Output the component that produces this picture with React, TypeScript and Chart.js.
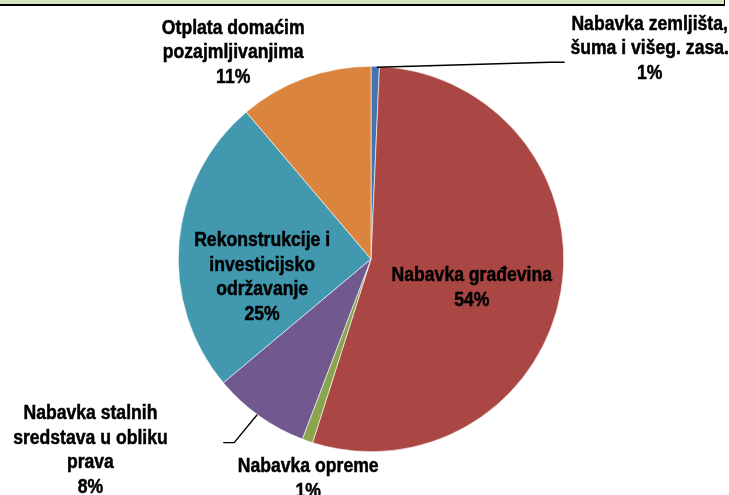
import React, { useEffect, useRef } from "react";
import { Chart, registerables } from "chart.js";

Chart.register(...registerables);

const categories = [
  "Nabavka zemljišta, šuma i višeg. zasa.",
  "Nabavka građevina",
  "Nabavka opreme",
  "Nabavka stalnih sredstava u obliku prava",
  "Rekonstrukcije i investicijsko održavanje",
  "Otplata domaćim pozajmljivanjima",
];
const values = [0.7, 54.2, 0.9, 8.1, 24.9, 11.2];
const labelLines = [
  ["Nabavka zemljišta,", "šuma i višeg. zasa."],
  ["Nabavka građevina"],
  ["Nabavka opreme"],
  ["Nabavka stalnih", "sredstava u obliku", "prava"],
  ["Rekonstrukcije i", "investicijsko", "održavanje"],
  ["Otplata domaćim", "pozajmljivanjima"],
];
const colors = ["#4575B0", "#AA4643", "#89A54E", "#71588F", "#4198AF", "#DB843D"];

// label placement, in units of the pie radius relative to its centre (first line's centre)
const labelPos = [
  { x: 1.446, y: -1.219 },
  { x: 0.523, y: 0.088 },
  { x: -0.326, y: 1.077 },
  { x: -1.456, y: 0.803 },
  { x: -0.565, y: -0.096 },
  { x: -0.715, y: -1.197 },
];
// leader lines (relative to radius), null when none
const leaders: (number[][] | null)[] = [
  [[0.03, -0.995], [0.927, -1.021], [1.005, -1.021]],
  null,
  null,
  [[-0.591, 0.808], [-0.710, 0.953], [-0.767, 0.953]],
  null,
  null,
];

const labelPlugin = {
  id: "sliceLabels",
  afterDraw(chart: any) {
    const ctx = chart.ctx;
    const meta = chart.getDatasetMeta(0);
    const arc0 = meta.data[0];
    const cx = arc0.x;
    const cy = arc0.y;
    const r = arc0.outerRadius;
    const total = values.reduce((a, b) => a + b, 0);
    ctx.save();
    ctx.strokeStyle = "#000";
    ctx.lineWidth = 1.4;
    leaders.forEach((pts) => {
      if (!pts) return;
      ctx.beginPath();
      pts.forEach((p, i) => {
        const px = cx + p[0] * r;
        const py = cy + p[1] * r;
        if (i === 0) ctx.moveTo(px, py);
        else ctx.lineTo(px, py);
      });
      ctx.stroke();
    });
    ctx.fillStyle = "#000";
    ctx.strokeStyle = "#000";
    ctx.lineWidth = 0.5;
    ctx.font = 'bold 20px "Liberation Sans", Arial, sans-serif';
    ctx.textAlign = "center";
    ctx.textBaseline = "middle";
    const lh = 24.5;
    const sx = 0.88;
    values.forEach((v, i) => {
      const lines = [...labelLines[i], Math.round((v / total) * 100) + "%"];
      const x = cx + labelPos[i].x * r;
      const y0 = cy + labelPos[i].y * r;
      lines.forEach((t, j) => {
        ctx.save();
        ctx.translate(x, y0 + j * lh);
        ctx.scale(sx, 1);
        ctx.fillText(t, 0, 0);
        ctx.strokeText(t, 0, 0);
        ctx.restore();
      });
    });
    ctx.restore();
  },
};

export default function App() {
  const ref = useRef<HTMLCanvasElement>(null);
  useEffect(() => {
    if (!ref.current) return;
    const chart = new Chart(ref.current, {
      type: "pie",
      data: {
        labels: categories,
        datasets: [
          {
            data: values,
            backgroundColor: colors,
            borderColor: "#ffffff",
            borderWidth: 0.6,
          },
        ],
      },
      options: {
        responsive: false,
        animation: false,
        layout: { padding: { top: 66, bottom: 43, left: 178, right: 165 } },
        plugins: {
          legend: { display: false },
          tooltip: { enabled: false },
        },
      },
      plugins: [labelPlugin],
    });
    return () => chart.destroy();
  }, []);
  return (
    <div style={{ position: "fixed", left: 0, top: 0, width: 729, height: 495, background: "#fff", overflow: "hidden" }}>
      <div
        style={{
          position: "absolute",
          left: 0,
          top: 0,
          width: 724,
          height: 4,
          background: "#D7E4BD",
          borderBottom: "2px solid #000",
          borderRight: "1.5px solid #000",
        }}
      />
      <canvas ref={ref} width={729} height={495} style={{ position: "absolute", left: 0, top: 0 }} />
    </div>
  );
}
